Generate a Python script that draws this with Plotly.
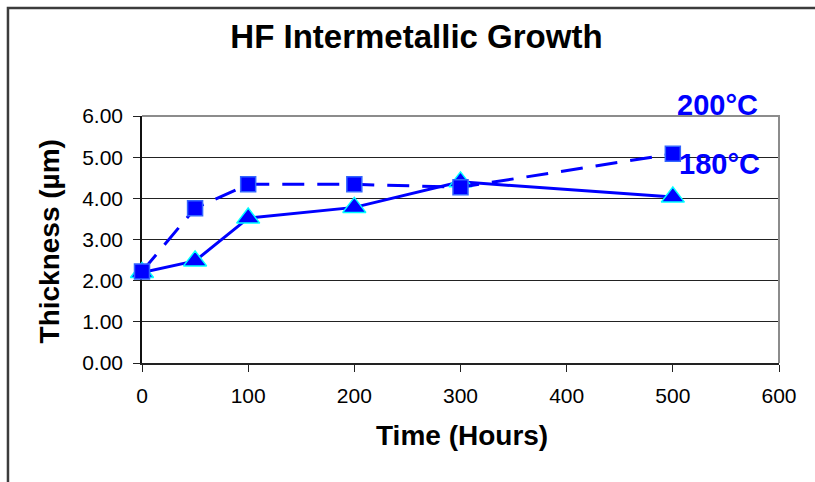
import plotly.graph_objects as go

# Intermetallic layer thickness (µm) versus ageing time (hours)
hours = [0, 50, 100, 200, 300, 500]
thick_180 = [2.20, 2.48, 3.52, 3.78, 4.40, 4.03]
thick_200 = [2.22, 3.76, 4.34, 4.34, 4.27, 5.08]

x_ticks = [0, 100, 200, 300, 400, 500, 600]
y_ticks = [0, 1, 2, 3, 4, 5, 6]

BLUE = "#0000FF"
FONT = "Liberation Sans, Arial, sans-serif"

fig = go.Figure()

fig.add_trace(go.Scatter(
    x=hours, y=thick_180, name="180°C", mode="lines+markers",
    line=dict(color=BLUE, width=3),
    marker=dict(symbol="triangle-up", size=20, color=BLUE,
                line=dict(color="#00FFFF", width=1.5)),
    cliponaxis=False,
))
fig.add_trace(go.Scatter(
    x=hours, y=thick_200, name="200°C", mode="lines+markers",
    line=dict(color=BLUE, width=3, dash="22px,13px"),
    marker=dict(symbol="square", size=15, color=BLUE,
                line=dict(color="#3366FF", width=1.5)),
    cliponaxis=False,
))

fig.update_layout(
    width=815, height=482,
    margin=dict(l=142, r=36, t=116, b=119),
    paper_bgcolor="white", plot_bgcolor="white",
    showlegend=False,
    font=dict(family=FONT, color="black"),
    title=dict(text="<b>HF Intermetallic Growth</b>",
               font=dict(family=FONT, size=33, color="black"),
               xref="container", x=0.511, xanchor="center",
               yref="container", y=0.925, yanchor="middle"),
    xaxis=dict(range=[0, 600], tickvals=x_ticks, showgrid=False,
               showline=True, linecolor="#222222", linewidth=1.5,
               ticks="outside", ticklen=7, tickcolor="#222222",
               tickfont=dict(size=21, family=FONT), zeroline=False,
               ticklabelstandoff=6, layer="below traces"),
    yaxis=dict(range=[0, 6], tickvals=y_ticks, tickformat=".2f",
               showgrid=True, gridcolor="#222222", gridwidth=1,
               showline=True, linecolor="#111111", linewidth=1.5,
               ticks="outside", ticklen=7, tickcolor="#222222",
               tickfont=dict(size=21, family=FONT), zeroline=False,
               ticklabelstandoff=6, layer="below traces"),
)

# Axis titles
fig.add_annotation(text="<b>Time (Hours)</b>", xref="paper", yref="paper",
                   x=0.503, y=-0.2915, xanchor="center", yanchor="middle",
                   showarrow=False, font=dict(size=28, family=FONT))
fig.add_annotation(text="<b>Thickness (µm)</b>", xref="paper", yref="paper",
                   x=-0.146, y=0.492, xanchor="center", yanchor="middle",
                   textangle=-90, showarrow=False,
                   font=dict(size=28, family=FONT))

# Series labels (positions in plot-area fractions)
fig.add_annotation(text="<b>200°C</b>", xref="paper", yref="paper",
                   x=0.904, y=1.045, xanchor="center", yanchor="middle",
                   showarrow=False,
                   font=dict(size=29, family=FONT, color=BLUE))
fig.add_annotation(text="<b>180°C</b>", xref="paper", yref="paper",
                   x=0.906, y=0.805, xanchor="center", yanchor="middle",
                   showarrow=False,
                   font=dict(size=29, family=FONT, color=BLUE))

# Grey frame on the top and right of the plot area
fig.add_shape(type="path", xref="paper", yref="paper",
              path="M 0,1 L 1,1 L 1,0", line=dict(color="#8c8c8c", width=2),
              layer="above")

# Chart-area border (left and top edges visible, running off the canvas)
fig.add_shape(type="path", xref="paper", yref="paper",
              path="M -0.2104,-0.49 L -0.2104,1.437 L 1.058,1.437",
              line=dict(color="#3c3c3c", width=2.5), layer="above")

fig.write_html("out.html", config={"displayModeBar": False})
